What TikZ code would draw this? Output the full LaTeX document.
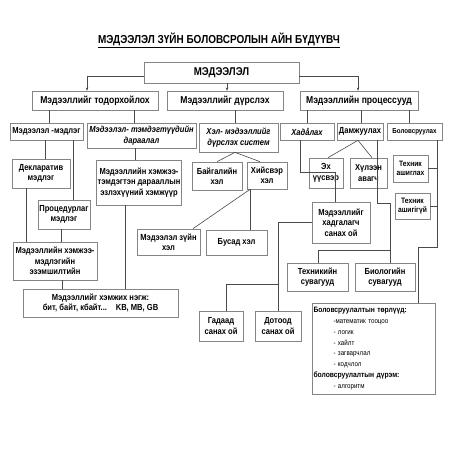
\documentclass[tikz,border=0pt]{standalone}
\usepackage{fontspec}
\setmainfont{Liberation Sans}[FakeStretch=0.86]
\usetikzlibrary{arrows.meta}
\definecolor{boxgray}{HTML}{858585}
\definecolor{linegray}{HTML}{4A4A4A}
\tikzset{
  box/.style={draw=boxgray, fill=white, line width=0.7pt, align=center, inner sep=1pt,
    font=\bfseries\fontsize{8.8}{10.4}\selectfont},
  itbox/.style={box, font=\bfseries\itshape\fontsize{8.8}{10.4}\selectfont},
  rowbox/.style={box, font=\bfseries\fontsize{10}{11.5}\selectfont},
  smallbox/.style={box, font=\bfseries\fontsize{7.8}{9.4}\selectfont},
  conn/.style={draw=linegray, line width=0.6pt},
  arr/.style={conn, -{Stealth[length=3pt,width=2.6pt]}},
}
\newcommand\vconn[3]{\draw[conn] (#1 -| #3,0) -- (#2 -| #3,0);}
\begin{document}
\begin{tikzpicture}[x=1pt,y=-1pt]
\useasboundingbox[fill=white] (0,0) rectangle (452,452);

\node[font=\bfseries\fontsize{11.6}{13}\selectfont] (title) at (219,40) {\underline{МЭДЭЭЛЭЛ ЗҮЙН БОЛОВСРОЛЫН АЙН БҮДҮҮВЧ}};

\node[box, minimum width=155pt, minimum height=21pt, font=\bfseries\fontsize{11.3}{12}\selectfont] (M) at (221.5,72.5) {МЭДЭЭЛЭЛ};

\node[rowbox, minimum width=126pt, minimum height=19pt] (T) at (95,100.5) {Мэдээллийг тодорхойлох};
\node[rowbox, minimum width=116pt, minimum height=19pt] (D) at (225,100.5) {Мэдээллийг дүрслэх};
\node[rowbox, minimum width=118pt, minimum height=19pt] (P) at (359,100.5) {Мэдээллийн процессууд};

\node[box, minimum width=73pt, minimum height=17pt] (MM) at (46.5,131.5) {Мэдээлэл -мэдлэг};
\node[itbox, minimum width=109pt, minimum height=25pt] (TD) at (141.5,135.5) {Мэдээлэл- тэмдэгтүүдийн\\дараалал};
\node[itbox, minimum width=79pt, minimum height=29pt] (HS) at (238.5,137.5) {Хэл- мэдээллийг\\дүрслэх систем};
\node[itbox, minimum width=54pt, minimum height=17pt] (HD) at (307,131.5) {Хадåлах};
\node[box, minimum width=46pt, minimum height=17pt] (DM) at (360,131.5) {Дамжуулах};
\node[box, minimum width=55pt, minimum height=17pt, font=\bfseries\fontsize{7.2}{8.4}\selectfont] (BL) at (414.5,131.5) {Боловсруулах};

\node[box, minimum width=58pt, minimum height=29pt] (DK) at (41,173.5) {Декларатив\\мэдлэг};
\node[box, minimum width=52pt, minimum height=29pt] (PM) at (64,214.5) {Процедурлаг\\мэдлэг};
\node[box, minimum width=84pt, minimum height=45pt] (HM) at (139,182.5) {Мэдээллийн хэмжээ-\\тэмдэгтэн дарааллын\\эзлэхүүний хэмжүүр};
\node[box, minimum width=50pt, minimum height=28pt] (BH) at (217,176) {Байгалийн\\хэл};
\node[box, minimum width=40pt, minimum height=27pt] (HH) at (267,175.5) {Хийсвэр\\хэл};
\node[box, minimum width=34pt, minimum height=30pt] (EU) at (326,173) {Эх\\үүсвэр};
\node[box, minimum width=37pt, minimum height=30pt] (HA) at (368.5,173) {Хүлээн\\авагч};
\node[smallbox, minimum width=35pt, minimum height=27pt] (TA) at (410.5,168.5) {Техник\\ашиглах};
\node[smallbox, minimum width=35pt, minimum height=26pt] (TG) at (412.5,206) {Техник\\ашигігүй};
\node[box, minimum width=58pt, minimum height=41pt] (MH) at (341,222.5) {Мэдээллийг\\хадгалагч\\санах ой};
\node[box, minimum width=63pt, minimum height=26pt] (MZ) at (168.5,242) {Мэдээлэл зүйн\\хэл};
\node[box, minimum width=61pt, minimum height=25pt] (BS) at (236.5,242.5) {Бусад хэл};
\node[box, minimum width=84pt, minimum height=38pt] (ME) at (55,261) {Мэдээллийн хэмжээ-\\мэдлэгийн\\эзэмшилтийн};
\node[box, minimum width=61pt, minimum height=28pt] (TS) at (317.5,277) {Техникийн\\сувагууд};
\node[box, minimum width=60pt, minimum height=28pt] (BO) at (385,277) {Биологийн\\сувагууд};
\node[box, minimum width=155pt, minimum height=28pt] (MN) at (100.5,303) {Мэдээллийг хэмжих нэгж:\\бит, байт, кбайт...\quad KB, MB, GB};
\node[box, minimum width=44pt, minimum height=30pt] (GS) at (221,326) {Гадаад\\санах ой};
\node[box, minimum width=46pt, minimum height=30pt] (DS) at (278,326) {Дотоод\\санах ой};
\node[box, minimum width=123pt, minimum height=91pt, text width=120pt, align=left,
  font=\fontsize{7.2}{10.8}\selectfont] (BT) at (373.5,348.5)
  {{\bfseries\fontsize{7.8}{10.8}\selectfont Боловсруулалтын төрлүүд:}\\
   \hspace*{20pt}-математик тооцоо\\
   \hspace*{20pt}- логик\\
   \hspace*{20pt}- хайлт\\
   \hspace*{20pt}- загварчлал\\
   \hspace*{20pt}- кодчлол\\
   {\bfseries\fontsize{7.8}{10.8}\selectfont боловсруулалтын дүрэм:}\\
   \hspace*{20pt}- алгоритм};

% arrows from the root
\draw[arr] ([yshift=-3.5pt]M.west) -| ([xshift=-8pt]T.north);
\draw[arr] ([xshift=2pt]D.north |- M.south) -- ([xshift=2pt]D.north);
\draw[arr] ([yshift=-3.5pt]M.east) -| ([xshift=-1pt]P.north);

% straight connectors
\vconn{T.south}{MM.north}{49}
\vconn{T.south}{TD.north}{134}
\vconn{D.south}{HS.north}{235}
\vconn{P.south}{HD.north}{307}
\vconn{P.south}{DM.north}{361}
\vconn{P.south}{BL.north}{409}
\vconn{MM.south}{DK.north}{45}
\vconn{MM.south}{PM.north}{73}
\vconn{DK.south}{ME.north}{26}
\vconn{PM.south}{ME.north}{61}
\vconn{TD.south}{HM.north}{135}
\vconn{HM.south}{MN.north}{125}
\vconn{ME.south}{MN.north}{62}
\vconn{HH.south}{BS.north}{250}

% diagonals
\draw[conn] (HS.south -| 235,0) -- (BH.north -| 217,0);
\draw[conn] (HS.south -| 235,0) -- (HH.north -| 260,0);
\draw[conn] (HH.south -| 250,0) -- (MZ.north -| 193,0);
\draw[conn] (DM.south -| 358,0) -- (EU.north -| 328,0);
\draw[conn] (DM.south -| 358,0) -- (HA.north -| 372,0);

% elbows
\coordinate (jb) at (390,250);
\coordinate (jd) at (278,284);
\draw[conn] (HD.south -| 300,0) |- (335,172) -- (MH.north -| 335,0);
\draw[conn] (DM.south -| 377,0) |- (390,203) -- (BO.north -| 390,0);
\draw[conn] (jb) -| (TS.north -| 318,0);
\draw[conn] (BL.south -| 437,0) |- (418,247) -- (BT.north -| 418,0);
\draw[conn] (TA.east) -- (TA.east -| 437,0);
\draw[conn] (TG.east) -- (TG.east -| 437,0);
\draw[conn] (MH.west) -| (DS.north -| 278,0);
\draw[conn] (jd) -| (GS.north -| 226,0);
\end{tikzpicture}
\end{document}
